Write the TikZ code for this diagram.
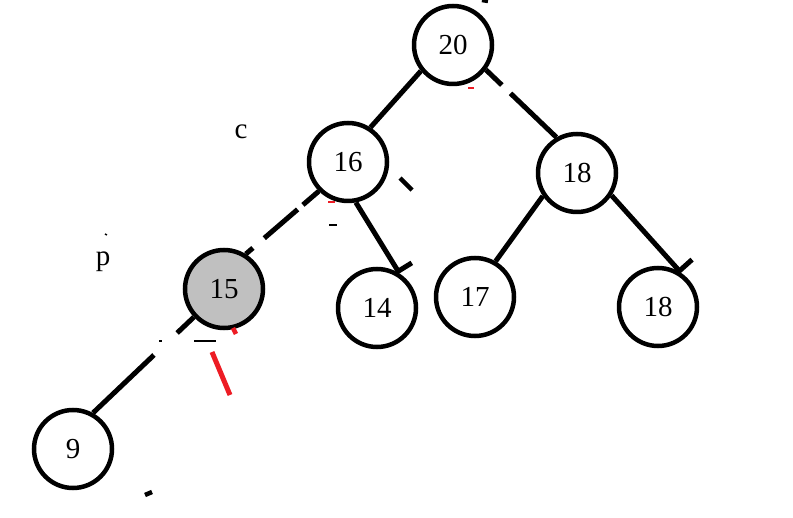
\documentclass[tikz,border=0pt]{standalone}
\usepackage{fontspec}
\setmainfont{Liberation Serif}
\usetikzlibrary{arrows.meta}
\definecolor{paintGray}{RGB}{192,192,192}
\definecolor{paintRed}{RGB}{237,28,36}
\newcommand{\KeyText}[1]{{\fontsize{29}{32}\selectfont #1}}

\begin{document}
\begin{tikzpicture}[x=1pt,y=-1pt,
  keynode/.style={circle,draw=black,line width=4.5pt,fill=white,minimum size=78pt,inner sep=0pt},
  treeedge/.style={line width=5pt},
  stray/.style={line width=4.5pt},
  thinstray/.style={line width=1.5pt}]
\useasboundingbox (0,0) rectangle (793,518);

% keys of the heap
\node[keynode] (k20) at (453,45) {\KeyText{20}};
\node[keynode] (k16) at (348,162) {\KeyText{16}};
\node[keynode] (k18) at (577,173) {\KeyText{18}};
\node[keynode,fill=paintGray] (k15) at (224,289) {\KeyText{15}};
\node[keynode] (k14) at (377,308) {\KeyText{14}};
\node[keynode] (k17) at (475,297) {\KeyText{17}};
\node[keynode] (k18b) at (658,307) {\KeyText{18}};
\node[keynode] (k9) at (73,449) {\KeyText{9}};

% pointer labels
\node (lc) at (241,132) {\KeyText{c}};
\node (lp) at (103,262) {\KeyText{p}};

% edges
\draw[treeedge] (k20.219) -- (k16.57);
\draw[treeedge,dash pattern=on 22pt off 12pt on 200pt] (k20.-37) -- (k18.120);
\draw[treeedge,dash pattern=on 21pt off 7pt on 44pt off 15pt on 40pt] (k16.225) -- (k15.58);
\draw[treeedge,-{Bar[width=32pt,left]}] (k16.-79) -- (k14.57);
\draw[treeedge] (k18.214) -- (k17.60);
\draw[treeedge,-{Bar[width=34pt,left]}] (k18.-33) -- (k18b.56);
\draw[treeedge,dash pattern=on 23pt off 32pt on 200pt] (k15.223) -- (k9.61);

% leftovers of the drawing
\draw[stray] (400,178) -- (412,190);
\draw[stray] (482,0) -- (488,1);
\draw[stray] (145,495) -- (152,492);
\draw[thinstray] (329,225) -- (337,225);
\draw[thinstray] (194,341) -- (216,341);
\draw[thinstray] (159,341) -- (162,341);
\draw[thinstray] (105,234) -- (107,235);
\draw[thinstray,paintRed] (468,88) -- (474,88);
\draw[thinstray,paintRed] (328,202) -- (335,202);
\draw[stray,paintRed] (233,328) -- (236,334);
\draw[line width=5pt,paintRed] (212,352) -- (230,395);
\end{tikzpicture}
\end{document}
